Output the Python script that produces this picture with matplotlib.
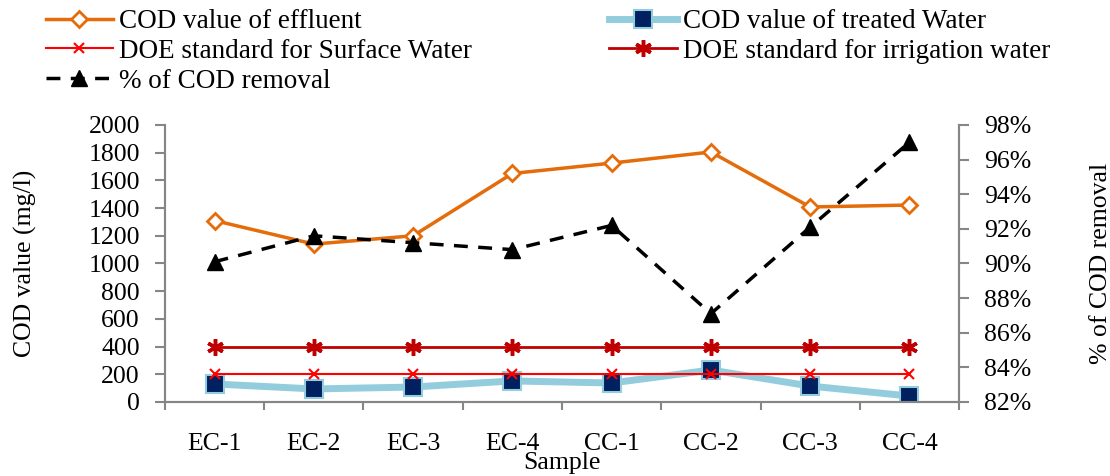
import numpy as np
import matplotlib
matplotlib.use('Agg')
import matplotlib.pyplot as plt
from matplotlib.ticker import FuncFormatter

plt.rcParams['font.family'] = ['Liberation Serif', 'DejaVu Serif']
plt.rcParams['font.size'] = 18.5

samples = ['EC-1', 'EC-2', 'EC-3', 'EC-4', 'CC-1', 'CC-2', 'CC-3', 'CC-4']
cod_effluent = [1310, 1140, 1200, 1650, 1725, 1805, 1408, 1422]
cod_treated = [130, 94, 108, 152, 137, 231, 115, 43]
doe_surface = [200] * 8
doe_irrigation = [400] * 8
cod_removal = [90.1, 91.6, 91.2, 90.8, 92.2, 87.1, 92.1, 97.0]

gc = '#868686'

fig = plt.figure(figsize=(11.1, 4.76), dpi=100)
ax = fig.add_axes([0.1486, 0.1555, 0.7154, 0.5819])
ax2 = ax.twinx()

x = np.arange(len(samples))

l1, = ax.plot(x, cod_effluent, '-', color='#E46C0A', lw=2.5, marker='D', ms=8,
              mfc='white', mec='#E46C0A', mew=2, label='COD value of effluent')
l2, = ax.plot(x, cod_treated, '-', color='#93CDDD', lw=5, marker='s', ms=13,
              mfc='#002060', mec='#93CDDD', mew=1.5, label='COD value of treated Water')
l3, = ax.plot(x, doe_surface, '-', color='#FF0000', lw=1.5, marker='x', ms=7,
              mew=1.5, label='DOE standard for Surface Water')
l4, = ax.plot(x, doe_irrigation, '-', color='#C00000', lw=2, marker=(6, 2, 0), ms=12,
              mew=2.5, label='DOE standard for irrigation water')
l5, = ax2.plot(x, cod_removal, '--', color='black', lw=2.5, dashes=(4, 3),
               marker='^', ms=11, mfc='black', mec='black', label='% of COD removal')

ax.set_xlim(-0.5, len(samples) - 0.5)
ax.set_ylim(0, 2000)
ax.set_yticks(np.arange(0, 2001, 200))
ax2.set_ylim(82, 98)
ax2.set_yticks(np.arange(82, 98.1, 2))
ax2.yaxis.set_major_formatter(FuncFormatter(lambda v, p: '%d%%' % v))

ax.set_xticks(x)
ax.set_xticklabels(samples)
ax.set_xticks(np.arange(-0.5, len(samples) + 0.5, 1), minor=True)
ax.tick_params(axis='x', which='major', length=0, pad=22)
ax.tick_params(axis='x', which='minor', length=6, width=1.5, color=gc)
ax.tick_params(axis='y', length=7, width=1.5, color=gc, pad=11)
ax2.tick_params(axis='y', length=7, width=1.5, color=gc, pad=11)

for a in (ax, ax2):
    a.spines['top'].set_visible(False)
    for s in ('left', 'right', 'bottom'):
        a.spines[s].set_color(gc)
        a.spines[s].set_linewidth(1.5)

ax.set_ylabel('COD value (mg/l)', labelpad=37)
ax2.set_ylabel('% of COD removal', labelpad=42)
ax.set_xlabel('Sample', labelpad=-2)

leg_kw = dict(loc='upper left', frameon=False, fontsize=19.5, borderpad=0,
              borderaxespad=0, handlelength=2.5, handletextpad=0.2, labelspacing=0.18)
leg1 = fig.legend([l1, l3, l5], [l1.get_label(), l3.get_label(), l5.get_label()],
                  bbox_to_anchor=(0.041, 0.981), **leg_kw)
fig.legend([l2, l4], [l2.get_label(), l4.get_label()],
           bbox_to_anchor=(0.549, 0.981), **leg_kw)

plt.savefig('out.png', dpi=100)
